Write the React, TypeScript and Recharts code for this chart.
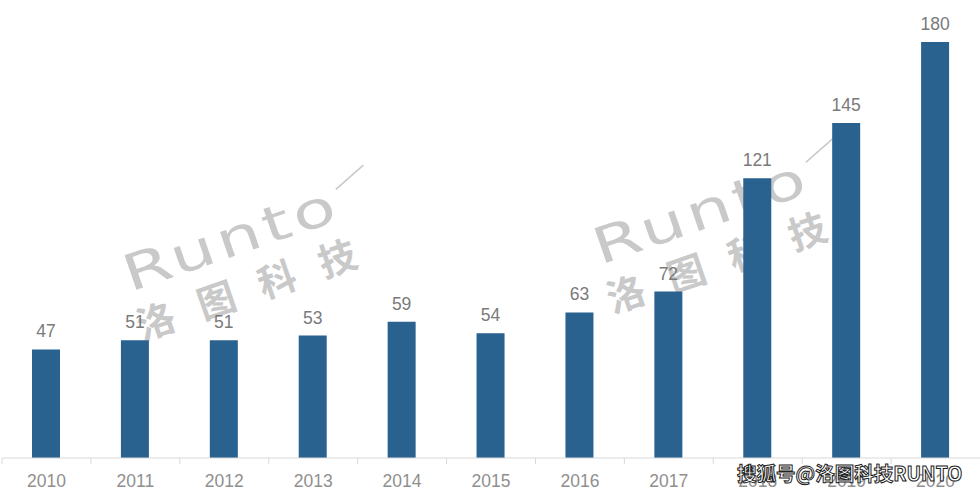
import { BarChart, Bar, XAxis, YAxis, LabelList } from "recharts"

const years = ["2010", "2011", "2012", "2013", "2014", "2015", "2016", "2017", "2018", "2019", "2020"]
const shipments = [47, 51, 51, 53, 59, 54, 63, 72, 121, 145, 180]

const data = years.map((year, i) => ({ year, value: shipments[i] }))

function YearTick(props: any) {
  const { x, y, payload } = props
  const off = payload && payload.offset ? payload.offset : 0
  return (
    <g>
      <line x1={x - off} y1={y} x2={x - off} y2={y + 6} stroke="#d9d9d9" />
      <text x={x} y={y + 29} textAnchor="middle" fill="#8f8f8f" fontSize={17.5} fontFamily="Liberation Sans, Arial, sans-serif">
        {payload.value}
      </text>
    </g>
  )
}

// faint company watermark, drawn behind the bars
function Watermark({ x, y }: { x: number; y: number }) {
  return (
    <g transform={`translate(${x},${y}) rotate(-19)`} fill="#c9c9c9">
      <text x={0} y={0} fontSize={50} fontFamily="DejaVu Sans, sans-serif" transform="scale(1.4,1)" letterSpacing={3}>
        Runto
      </text>
      <line x1={228} y1={-30} x2={262} y2={-44} stroke="#c9c9c9" strokeWidth={1.5} />
      <text x={-4} y={50} fontSize={38} fontWeight="bold" letterSpacing={26} fontFamily="Noto Sans CJK SC, sans-serif">
        洛图科技
      </text>
    </g>
  )
}

export default function App() {
  return (
    <div style={{ position: "absolute", left: 0, top: 0, width: 980, height: 499, background: "#fff" }}>
      <svg width={980} height={499} style={{ position: "absolute", left: 0, top: 0 }}>
        <Watermark x={130} y={292} />
        <Watermark x={600} y={265} />
      </svg>
      <div style={{ position: "absolute", left: 0, top: 0 }}>
        <BarChart width={980} height={499} data={data} margin={{ top: 42, right: 0, left: 2, bottom: 0 }}>
          <YAxis hide domain={[0, 180]} />
          <XAxis
            dataKey="year"
            height={41}
            axisLine={{ stroke: "#d9d9d9" }}
            tickLine={false}
            tickSize={0}
            tickMargin={0}
            interval={0}
            tick={<YearTick />}
          />
          <Bar dataKey="value" fill="#29618f" barSize={28} isAnimationActive={false}>
            <LabelList dataKey="value" position="top" offset={12} fill="#7a7a7a" fontSize={17.5} fontFamily="Liberation Sans, Arial, sans-serif" />
          </Bar>
        </BarChart>
      </div>
      <svg width={980} height={499} style={{ position: "absolute", left: 0, top: 0, pointerEvents: "none" }}>
        <text x={737} y={481} fontSize={19.5} fontWeight="bold" fill="#fff" stroke="#222" strokeWidth={1} fontFamily="Noto Sans CJK SC, sans-serif">
          搜狐号@洛图科技RUNTO
        </text>
      </svg>
    </div>
  )
}
